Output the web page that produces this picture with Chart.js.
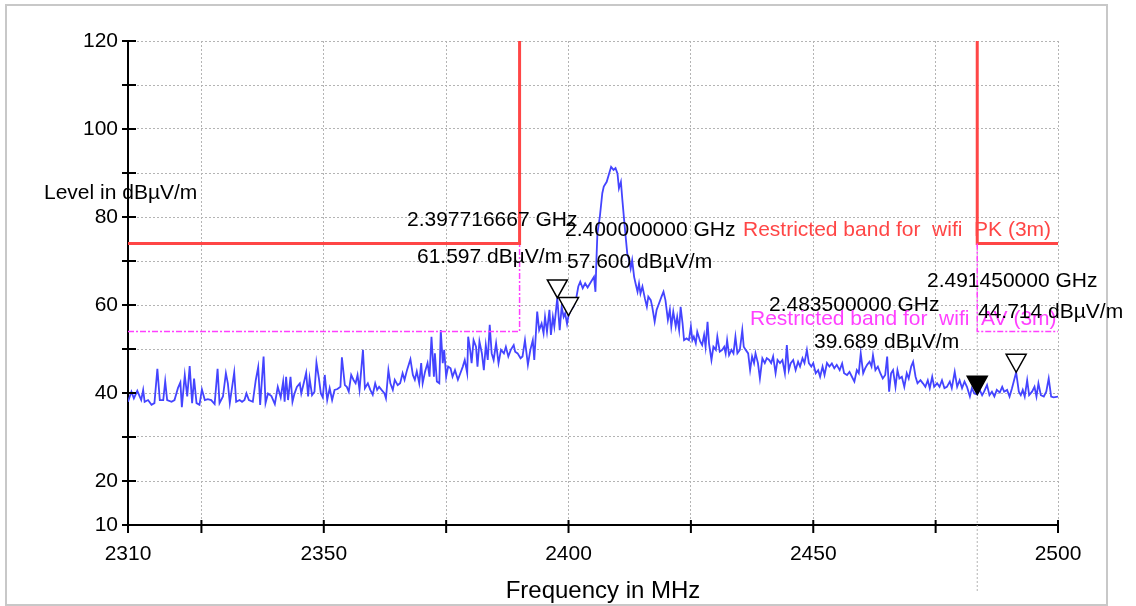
<!DOCTYPE html>
<html>
<head>
<meta charset="utf-8">
<script src="https://cdn.jsdelivr.net/npm/chart.js@4.4.0/dist/chart.umd.min.js"></script>
<style>
html,body{margin:0;padding:0;background:#fff;}
#wrap{width:1136px;height:606px;}
</style>
</head>
<body>
<div id="wrap"><canvas id="spectrum" width="1136" height="606"></canvas></div>
<script>
// ===================== measured trace (MHz / dBuV/m) =====================
const traceFreq = [
  2310.0,2310.7,2311.2,2311.9,2312.7,2313.1,2313.4,2314.1,2314.8,2315.4,
  2316.0,2316.5,2317.2,2317.6,2318.0,2318.9,2319.5,2320.2,2320.7,2321.0,
  2321.6,2322.1,2322.6,2323.1,2323.5,2324.0,2324.6,2325.1,2325.7,2326.3,
  2327.0,2327.7,2328.3,2328.7,2329.4,2330.0,2330.4,2330.8,2331.7,2332.1,
  2332.8,2333.3,2333.8,2334.2,2334.7,2335.5,2336.1,2336.6,2337.0,2337.7,
  2338.1,2338.6,2339.3,2340.0,2340.6,2341.2,2341.7,2342.0,2342.3,2342.7,
  2343.2,2343.6,2344.0,2344.5,2345.1,2345.4,2345.9,2346.4,2346.8,2347.1,
  2347.6,2348.1,2348.5,2349.0,2349.4,2349.8,2350.2,2350.7,2351.2,2351.7,
  2352.2,2352.8,2353.4,2353.7,2354.3,2354.7,2355.1,2355.6,2356.1,2356.5,
  2356.9,2357.3,
  2358.0,2358.4,2359.0,2359.5,2360.0,2360.5,2360.9,2361.3,2361.8,2362.4,
  2362.7,2363.2,2363.6,2364.1,2364.5,2365.1,2365.6,2366.1,2366.5,2367.0,
  2367.7,2368.2,2368.6,2369.0,2369.5,2369.9,2370.2,2370.7,2371.2,2371.6,
  2372.0,2372.5,2372.7,2373.1,2373.6,2373.9,2374.3,2374.6,2375.0,2375.4,
  2375.9,2376.3,2376.8,2377.4,2377.9,2378.4,2378.8,2379.3,2379.5,2379.9,
  2380.2,2380.6,2381.1,2381.4,2381.8,2382.3,2382.7,2383.1,2383.5,2383.9,
  2384.3,2384.7,2385.2,2385.7,2386.2,2386.8,2387.2,2387.7,2388.2,2388.8,
  2389.1,2389.6,2390.2,2390.6,2391.1,2391.7,2392.2,2392.7,2393.0,2393.6,
  2394.0,2394.5,2394.9,2395.2,2395.6,2396.1,2396.4,2396.8,2397.1,2397.7,
  2398.2,2398.6,2399.0,2399.3,2399.7,2400.0,2400.5,2401.0,2401.5,2402.0,
  2402.4,2402.9,2403.4,2403.9,2404.6,2405.2,
  2405.5,2405.7,2405.9,2406.4,2406.9,2407.2,2407.8,2408.3,2408.7,2409.2,
  2409.6,2410.0,2410.3,2410.7,2411.0,2411.3,2411.7,2412.0,2412.4,2412.7,
  2413.0,2413.4,2413.7,2414.1,2414.4,2414.7,2415.1,2415.6,2416.0,2416.3,
  2416.8,2417.1,2417.6,2418.0,2418.5,2419.0,2419.4,2419.8,2420.3,2420.7,
  2421.0,2421.4,2421.9,2422.2,2422.6,2422.9,2423.3,2423.6,2424.1,2424.6,
  2425.0,2425.3,2425.6,2426.0,2426.3,2426.9,2427.3,2427.7,2428.0,2428.4,
  2428.7,2429.2,2429.6,2430.1,2430.4,2430.9,2431.4,2431.8,2432.1,2432.4,
  2432.8,2433.3,2433.7,2434.1,2434.5,2435.0,2435.5,2435.8,2436.2,2436.7,
  2437.1,2437.5,2437.9,2438.2,2438.7,2439.1,2439.6,2440.1,2440.5,2441.0,
  2441.4,2441.8,2442.3,2442.7,2443.2,2443.7,2444.2,2444.6,2445.0,2445.4,
  2445.9,2446.4,2446.9,2447.3,2447.8,2448.2,2448.7,2449.1,2449.6,2450.0,
  2450.5,2451.0,2451.4,2451.9,2452.3,2452.8,
  2453.3,2453.8,2454.3,2454.8,2455.4,2455.9,2456.3,2456.9,2457.4,2457.9,
  2458.4,2458.9,2459.3,2459.7,2460.2,2460.6,2461.0,2461.5,2461.9,2462.2,
  2462.7,2463.2,2463.7,2464.2,2464.7,2465.1,2465.5,2465.9,2466.3,2466.8,
  2467.2,2467.6,2468.1,2468.6,2469.1,2469.5,2470.0,2470.4,2470.9,2471.3,
  2471.9,2472.4,2472.9,2473.4,2473.8,2474.3,2474.7,2475.3,2475.8,2476.3,
  2476.8,2477.3,2477.9,2478.3,2478.9,2479.4,2479.9,2480.4,2480.9,2481.4,
  2482.0,2482.4,2482.9,2483.5,2484.0,2484.5,2484.9,2485.5,2486.0,2486.5,
  2487.0,2487.5,2488.1,2488.6,2489.0,2489.6,2490.1,2490.6,2491.45,2492.0,
  2492.4,2492.8,2493.2,2493.7,2494.1,2494.7,2495.2,2495.6,2496.0,2496.5,
  2497.1,2497.6,2498.1,2498.6,2499.1,2500.0
]
const traceLevel = [
  38.0,40.3,38.8,40.5,38.4,40.7,38.0,38.4,37.3,37.7,
  45.5,38.4,38.4,42.7,38.4,38.0,38.4,41.1,42.4,36.8,
  44.1,39.2,46.1,37.7,43.3,37.7,37.3,40.8,38.4,38.6,
  38.4,37.5,45.5,37.7,39.2,44.5,42.2,37.7,44.7,38.0,
  38.4,38.0,38.4,39.9,38.4,38.0,42.9,45.9,37.3,48.3,
  37.7,39.9,39.3,37.5,41.4,39.0,42.6,38.0,43.7,38.4,
  43.7,38.0,39.8,41.4,42.2,39.9,42.2,44.6,39.2,43.3,
  39.5,40.3,46.9,43.3,39.9,39.0,44.1,38.4,41.1,38.4,
  40.7,40.9,41.4,48.1,41.8,41.4,40.3,44.1,42.9,42.2,
  44.1,40.7,
  49.8,41.1,42.2,40.7,39.6,42.2,40.7,41.4,40.7,39.9,
  38.8,45.2,42.2,40.7,43.0,41.8,42.2,44.5,43.0,45.2,
  47.7,44.1,43.0,44.9,42.2,46.8,42.2,44.9,46.8,43.7,
  52.8,43.7,49.0,42.6,42.2,54.3,46.8,49.8,43.7,46.0,
  45.6,43.7,45.2,43.0,44.5,46.0,47.5,44.5,52.8,49.8,
  46.8,52.0,50.5,46.0,51.7,49.0,45.2,50.9,47.5,55.5,
  49.0,47.5,51.3,46.8,49.8,49.0,50.5,48.3,49.8,50.9,
  49.4,49.0,47.9,48.3,52.0,46.4,49.8,52.0,47.5,58.5,
  54.3,55.8,53.6,57.3,53.9,58.9,53.2,57.3,55.1,61.6,
  54.3,59.6,57.3,58.1,55.7,57.6,58.9,59.6,61.1,64.2,
  65.3,63.8,64.9,64.0,65.3,66.4,
  63.0,70.2,76.3,80.1,85.4,86.9,88.0,89.9,91.4,90.7,
  91.1,89.9,86.5,88.0,83.9,80.1,75.2,71.7,70.2,68.3,
  70.2,66.4,64.9,63.0,64.9,62.6,64.2,61.5,59.6,61.9,
  61.1,59.6,56.2,58.9,60.4,61.9,63.0,61.1,56.6,58.9,
  55.1,58.5,55.1,57.3,54.3,59.6,55.8,52.0,52.4,52.0,
  55.1,52.0,52.8,51.3,53.9,51.7,50.9,53.2,50.5,56.2,
  51.3,47.5,50.5,49.8,52.8,49.4,49.8,50.5,49.0,52.0,
  48.6,49.8,49.0,52.8,49.0,49.8,54.3,50.5,49.8,49.0,
  45.2,48.3,46.8,49.0,46.8,43.3,47.9,46.8,47.9,47.5,
  46.8,48.3,44.5,47.5,46.8,47.5,44.5,50.9,45.2,46.8,
  47.5,45.2,47.1,46.0,47.9,46.8,49.8,46.8,46.0,46.8,
  44.5,45.2,43.7,46.0,44.1,46.8,
  46.0,46.7,45.6,46.4,45.2,46.7,44.5,44.1,44.8,43.7,
  42.6,45.2,44.5,49.0,44.5,45.6,46.4,47.1,46.0,48.6,
  45.2,46.0,44.5,43.3,44.1,48.3,40.3,44.5,45.2,41.4,
  45.2,43.3,43.7,41.4,44.5,43.3,46.0,47.1,43.7,42.2,
  42.9,42.2,41.4,42.9,41.1,43.7,41.4,42.2,41.4,42.9,
  41.1,41.4,42.6,41.1,44.8,41.4,42.9,41.1,42.6,41.4,
  39.2,41.1,39.9,39.7,40.7,39.5,40.3,41.8,39.5,40.3,
  39.2,40.7,40.1,41.4,40.3,40.7,39.2,41.1,44.7,40.3,
  39.5,40.7,39.2,42.9,39.5,40.3,41.4,39.2,42.2,39.5,
  39.2,40.3,43.3,39.2,39.0,39.2
]

// ===================== limit lines (null = gap) =====================
const pkFreq  = [2310, 2390, 2390, 2437, 2483.5, 2483.5, 2500]
const pkLevel = [74, 74, 120, null, 120, 74, 74]
const avFreq  = [2310, 2390, 2390, 2437, 2483.5, 2483.5, 2500]
const avLevel = [54, 54, 74, null, 74, 54, 54]

// ===================== markers =====================
const markerFreq   = [2397.716667, 2400, 2483.5, 2491.45]
const markerLevel  = [61.597, 57.6, 39.689, 44.714]
const markerFilled = [false, false, true, false]
const bandEdge = 2483.5

// ===================== axes =====================
const xTicks  = [2310, 2325, 2350, 2375, 2400, 2425, 2450, 2475, 2500]
const xLabels = [2310, 2350, 2400, 2450, 2500]
const yTicks  = [10, 20, 30, 40, 50, 60, 70, 80, 90, 100, 110, 120]
const yLabels = [10, 20, 40, 60, 80, 100, 120]

const FONT = 'Liberation Sans, Arial, Helvetica, sans-serif'
const RED = '#ff4646'
const MAGENTA = '#ff40ff'

// text notes (canvas px, left aligned, alphabetic baseline)
const notes = [
  {t: '2.397716667 GHz', x: 407, y: 226, c: '#000'},
  {t: '61.597 dB\u00b5V/m', x: 417, y: 263, c: '#000'},
  {t: '2.400000000 GHz', x: 565, y: 236, c: '#000'},
  {t: 'Restricted band for  wifi  PK (3m)', x: 743, y: 236, c: RED},
  {t: '57.600 dB\u00b5V/m', x: 567, y: 268, c: '#000'},
  {t: '2.491450000 GHz', x: 927, y: 287, c: '#000'},
  {t: '2.483500000 GHz', x: 769, y: 311, c: '#000'},
  {t: 'Restricted band for  wifi  AV (3m)', x: 750, y: 325, c: MAGENTA},
  {t: '44.714 dB\u00b5V/m', x: 978, y: 318, c: '#000'},
  {t: '39.689 dB\u00b5V/m', x: 814, y: 348, c: '#000'},
  {t: 'Level in dB\u00b5V/m', x: 44, y: 199, c: '#000'}
]

const pts = (xs, ys) => xs.map((x, i) => ({x: x, y: ys[i]}))

const decor = {
  id: 'decor',
  beforeDraw(chart) {
    const ctx = chart.ctx
    ctx.save()
    ctx.fillStyle = '#fff'
    ctx.fillRect(0, 0, chart.width, chart.height)
    ctx.strokeStyle = '#c8c8c8'
    ctx.lineWidth = 2
    ctx.strokeRect(6, 5, 1101, 600)
    ctx.restore()
  },
  beforeDatasetsDraw(chart) {
    const ctx = chart.ctx, a = chart.chartArea
    const px = chart.scales.x.getPixelForValue(bandEdge)
    ctx.save()
    ctx.strokeStyle = '#b4b4b4'
    ctx.lineWidth = 1
    ctx.setLineDash([2, 2])
    ctx.beginPath()
    ctx.moveTo(px, a.top)
    ctx.lineTo(px, a.bottom + 67)
    ctx.stroke()
    ctx.restore()
  },
  afterDraw(chart) {
    const ctx = chart.ctx, a = chart.chartArea
    const xs = chart.scales.x, ys = chart.scales.y
    ctx.save()
    // tick marks crossing the axes
    ctx.strokeStyle = '#000'
    ctx.lineWidth = 2
    ctx.beginPath()
    yTicks.forEach(v => {
      const py = ys.getPixelForValue(v)
      ctx.moveTo(a.left - 6, py)
      ctx.lineTo(a.left + 8, py)
    })
    xTicks.forEach(v => {
      const px = xs.getPixelForValue(v)
      ctx.moveTo(px, a.bottom - 5)
      ctx.lineTo(px, a.bottom + 8)
    })
    ctx.stroke()

    // markers: triangle with its tip on the point
    ctx.lineWidth = 1.5
    markerFreq.forEach((f, i) => {
      const px = xs.getPixelForValue(f)
      const py = ys.getPixelForValue(markerLevel[i])
      ctx.beginPath()
      ctx.moveTo(px, py)
      ctx.lineTo(px - 10, py - 18)
      ctx.lineTo(px + 10, py - 18)
      ctx.closePath()
      ctx.fillStyle = markerFilled[i] ? '#000' : '#fff'
      ctx.fill()
      ctx.strokeStyle = '#000'
      ctx.stroke()
    })

    // texts
    ctx.font = '21px ' + FONT
    ctx.textAlign = 'left'
    ctx.textBaseline = 'alphabetic'
    notes.forEach(n => {
      ctx.fillStyle = n.c
      ctx.fillText(n.t, n.x, n.y)
    })
    ctx.font = '24px ' + FONT
    ctx.fillStyle = '#000'
    ctx.textAlign = 'center'
    ctx.fillText('Frequency in MHz', (a.left + a.right) / 2 + 10, 598)
    ctx.restore()
  }
}

new Chart(document.getElementById('spectrum'), {
  type: 'line',
  data: {
    datasets: [
      {
        label: 'AV limit',
        data: pts(avFreq, avLevel),
        borderColor: MAGENTA,
        borderWidth: 1.5,
        borderDash: [6, 2, 2, 2],
        pointRadius: 0,
        spanGaps: false
      },
      {
        label: 'PK limit',
        data: pts(pkFreq, pkLevel),
        borderColor: RED,
        borderWidth: 3,
        pointRadius: 0,
        spanGaps: false
      },
      {
        label: 'Trace',
        data: pts(traceFreq, traceLevel),
        borderColor: 'rgb(68,68,255)',
        borderWidth: 1.8,
        pointRadius: 0,
        tension: 0
      }
    ]
  },
  options: {
    responsive: false,
    animation: false,
    layout: {padding: {top: 41, right: 78, left: 0, bottom: 0}},
    plugins: {legend: {display: false}, tooltip: {enabled: false}},
    scales: {
      x: {
        type: 'linear',
        min: 2310,
        max: 2500,
        afterBuildTicks: s => { s.ticks = xTicks.map(v => ({value: v})) },
        afterFit: s => { s.height = 81 },
        ticks: {
          autoSkip: false,
          maxRotation: 0,
          padding: 17,
          color: '#000',
          font: {family: FONT, size: 21},
          callback: v => xLabels.includes(v) ? String(v) : ''
        },
        grid: {color: '#b4b4b4', lineWidth: 1, drawTicks: false},
        border: {color: '#000', width: 2, dash: [2, 2]}
      },
      y: {
        min: 10,
        max: 120,
        afterBuildTicks: s => { s.ticks = yTicks.map(v => ({value: v})) },
        afterFit: s => { s.width = 128 },
        ticks: {
          autoSkip: false,
          padding: 10,
          color: '#000',
          font: {family: FONT, size: 21},
          callback: v => yLabels.includes(v) ? String(v) : ''
        },
        grid: {color: '#b4b4b4', lineWidth: 1, drawTicks: false},
        border: {color: '#000', width: 2, dash: [2, 2]}
      }
    }
  },
  plugins: [decor]
})
</script>
</body>
</html>
